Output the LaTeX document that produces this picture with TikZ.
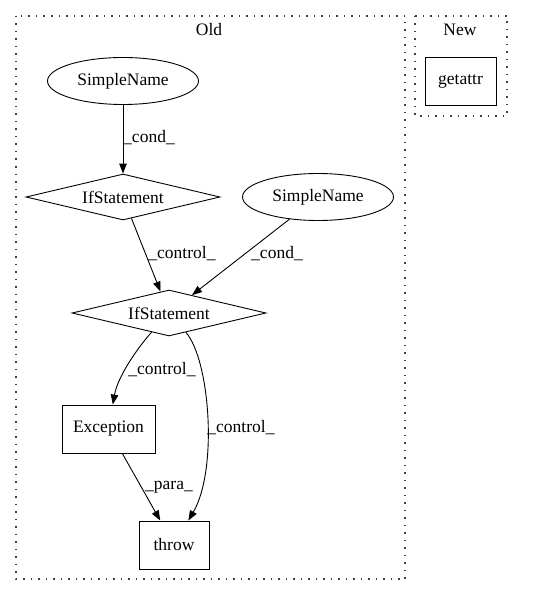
\documentclass[tikz,border=0pt]{standalone}
\usepackage{fontspec}
\setmainfont{Liberation Serif}
\usetikzlibrary{shapes.geometric,arrows.meta}
\begin{document}
\begin{tikzpicture}[x=1pt,y=-1pt,
  font=\fontsize{17.5pt}{20pt}\selectfont,
  cluster/.style={draw=black!75,line width=1.2pt,dash pattern=on 1.5pt off 6pt},
  ellnode/.style={draw,ellipse,minimum width=151pt,minimum height=47pt,inner sep=0pt,line width=0.9pt},
  dianode/.style={draw,diamond,aspect=4.2,minimum width=194pt,minimum height=46pt,inner sep=0pt,line width=0.9pt},
  boxnode/.style={draw,rectangle,minimum height=48pt,inner sep=0pt,line width=0.9pt},
  edge/.style={-{Triangle[length=10pt,width=7.5pt]},line width=0.9pt},
  lbl/.style={inner sep=0pt}]
\useasboundingbox (0,0) rectangle (532,596);
% clusters
\draw[cluster] (16,16) rectangle (405,579);
\draw[cluster] (415,16) rectangle (507,116);
\node[lbl] (oldlbl) at (209,30) {Old};
\node[lbl] (newlbl) at (460,30) {New};
% nodes
\node[boxnode,minimum width=71pt] (getattr) at (460.5,81) {getattr};
\node[ellnode] (sn1) at (123,81) {SimpleName};
\node[dianode] (if1) at (123,197) {IfStatement};
\node[ellnode] (sn2) at (318,197) {SimpleName};
\node[dianode] (if2) at (169,313) {IfStatement};
\node[boxnode,minimum width=93pt] (exc) at (108.5,429) {Exception};
\node[boxnode,minimum width=70pt] (throw) at (174,545) {throw};
% edges
\draw[edge] (sn1) -- (if1);
\draw[edge] (if1) -- (if2);
\draw[edge] (sn2) -- (if2);
\draw[edge] (if2) .. controls (140,345) and (118,375) .. (exc);
\draw[edge] (if2) .. controls (210,360) and (218,470) .. (throw);
\draw[edge] (exc) -- (throw);
% labels
\node[lbl] (l1) at (149,138) {\_cond\_};
\node[lbl] (l2) at (182,254) {\_control\_};
\node[lbl] (l3) at (277,254) {\_cond\_};
\node[lbl] (l4) at (162,370) {\_control\_};
\node[lbl] (l5) at (241,428) {\_control\_};
\node[lbl] (l6) at (169,487) {\_para\_};
\end{tikzpicture}
\end{document}
